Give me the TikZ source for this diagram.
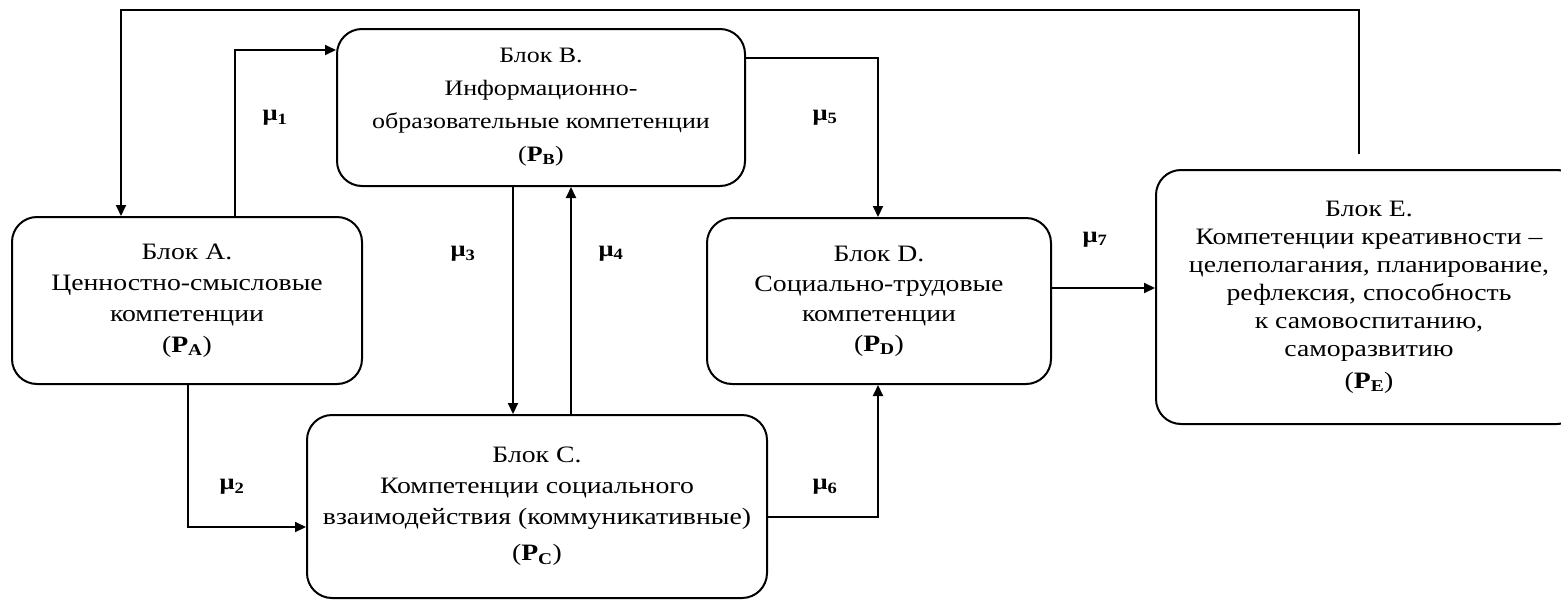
\documentclass[tikz,border=0pt]{standalone}
\usepackage{fontspec}
\setmainfont[FakeStretch=1.18]{Liberation Serif}
\usetikzlibrary{arrows.meta}
\tikzset{
  block/.style={draw, line width=2pt, rounded corners=25pt, inner sep=0pt, align=center,
    font=\fontsize{23.5}{31}\selectfont},
  arr/.style={line width=2pt, -{Triangle[length=11pt,width=10pt]}},
  mulbl/.style={font=\fontsize{22.5}{24}\selectfont\bfseries, inner sep=0pt}
}
\begin{document}
\begin{tikzpicture}[x=1pt,y=-1pt]
\useasboundingbox (0,0) rectangle (1561,600);
% blocks
\node[block, minimum width=350pt, minimum height=167pt] (A) at (187,300.5)
  {Блок А.\\Ценностно-смысловые\\компетенции\\(\textbf{P\textsubscript{A}})};
\node[block, minimum width=408pt, minimum height=157pt,
  font=\fontsize{22}{33}\selectfont] (B) at (541,107.5)
  {Блок В.\\Информационно-\\образовательные компетенции\\(\textbf{P\textsubscript{B}})};
\node[block, minimum width=460pt, minimum height=183pt] (C) at (537,506.5)
  {Блок С.\\Компетенции социального\\взаимодействия (коммуникативные)\\[5pt](\textbf{P\textsubscript{C}})};
\node[block, minimum width=344pt, minimum height=166pt,
  font=\fontsize{23.5}{30}\selectfont] (D) at (879,301)
  {Блок D.\\Социально-трудовые\\компетенции\\(\textbf{P\textsubscript{D}})};
\node[block, minimum width=426pt, minimum height=254pt,
  font=\fontsize{23.5}{28}\selectfont] (E) at (1369,297)
  {Блок Е.\\Компетенции креативности –\\целеполагания, планирование,\\рефлексия, способность\\к самовоспитанию,\\саморазвитию\\[4pt](\textbf{P\textsubscript{E}})};
% bend points
\coordinate (fbR) at (1359,10);
\coordinate (fbL) at (121,10);
\coordinate (m1) at (235,50);
\coordinate (m2) at (188,527);
\coordinate (m3) at (513,0);
\coordinate (m4) at (571,0);
\coordinate (m5) at (878,58);
\coordinate (m6) at (878,517);
\coordinate (m7) at (0,288);
% connectors
\draw[arr, shorten <=15pt] (E.north -| fbR) -- (fbR) -- (fbL) -- (A.north -| fbL);
\draw[arr] (A.north -| m1) -- (m1) -- (B.west |- m1);
\draw[arr] (A.south -| m2) -- (m2) -- (C.west |- m2);
\draw[arr] (B.south -| m3) -- (C.north -| m3);
\draw[arr] (C.north -| m4) -- (B.south -| m4);
\draw[arr] (B.east |- m5) -- (m5) -- (D.north -| m5);
\draw[arr] (C.east |- m6) -- (m6) -- (D.south -| m6);
\draw[arr] (D.east |- m7) -- (E.west |- m7);
% labels
\node[mulbl] (l1) at (275,118) {μ\textsubscript{1}};
\node[mulbl] (l2) at (232,487) {μ\textsubscript{2}};
\node[mulbl] (l3) at (463,254) {μ\textsubscript{3}};
\node[mulbl] (l4) at (611,254) {μ\textsubscript{4}};
\node[mulbl] (l5) at (825,118) {μ\textsubscript{5}};
\node[mulbl] (l6) at (825,487) {μ\textsubscript{6}};
\node[mulbl] (l7) at (1095,240) {μ\textsubscript{7}};
\end{tikzpicture}
\end{document}
